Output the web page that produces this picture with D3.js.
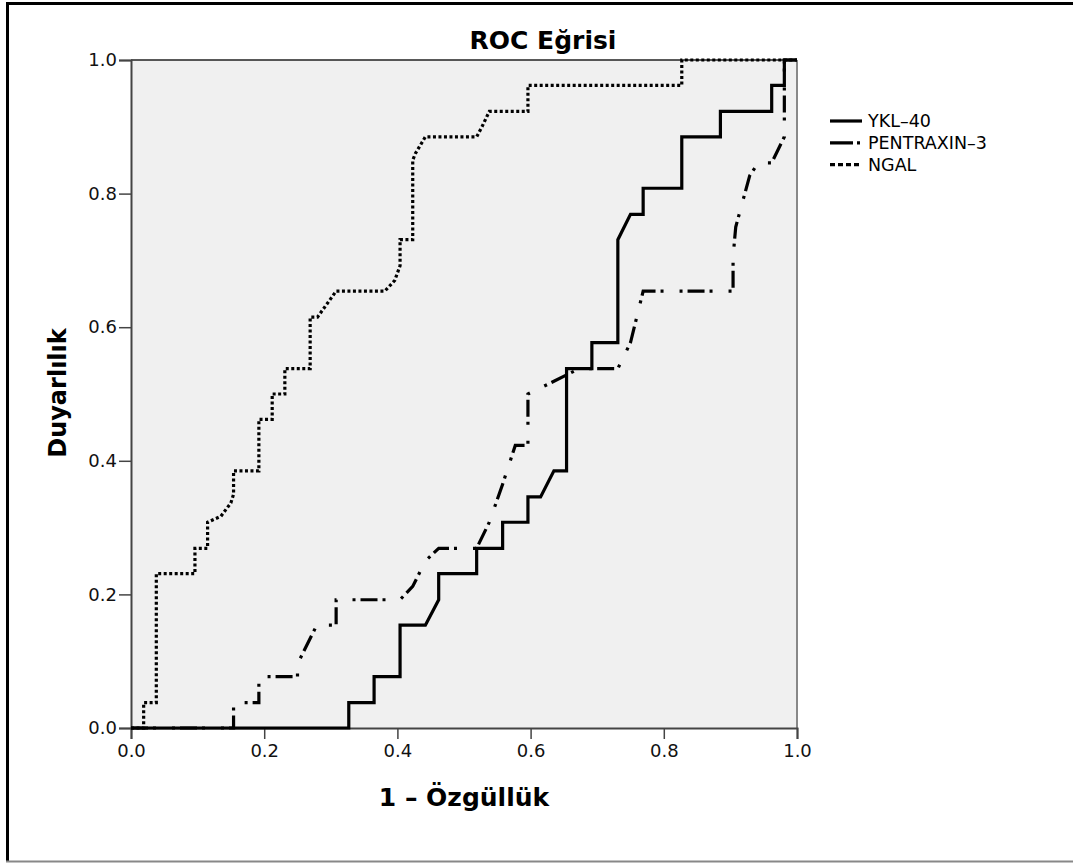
<!DOCTYPE html>
<html>
<head>
<meta charset="utf-8">
<script src="https://cdn.jsdelivr.net/npm/d3@7"></script>
<style>
  body { margin: 0; background: #fff; }
  svg { display: block; font-family: "DejaVu Sans", sans-serif; }
</style>
</head>
<body>
<div id="chart"></div>
<script>
// ROC curve points: [1 - specificity, sensitivity]
const yklPoints = [
  [0, 0], [0.327, 0], [0.327, 0.038], [0.365, 0.038], [0.365, 0.077], [0.404, 0.077],
  [0.404, 0.154], [0.442, 0.154], [0.462, 0.192], [0.462, 0.231], [0.519, 0.231],
  [0.519, 0.269], [0.558, 0.269], [0.558, 0.308], [0.596, 0.308], [0.596, 0.346],
  [0.615, 0.346], [0.635, 0.385], [0.654, 0.385], [0.654, 0.538], [0.692, 0.538],
  [0.692, 0.577], [0.731, 0.577], [0.731, 0.731], [0.75, 0.769], [0.769, 0.769],
  [0.769, 0.808], [0.827, 0.808], [0.827, 0.885], [0.885, 0.885], [0.885, 0.923],
  [0.962, 0.923], [0.962, 0.962], [0.981, 0.962], [0.981, 1], [1, 1]
];

const pentraxinPoints = [
  [0, 0], [0.154, 0], [0.154, 0.038], [0.192, 0.038], [0.192, 0.077], [0.25, 0.077],
  [0.25, 0.096], [0.279, 0.154], [0.308, 0.154], [0.308, 0.192], [0.404, 0.192],
  [0.423, 0.212], [0.442, 0.25], [0.462, 0.269], [0.519, 0.269], [0.538, 0.308],
  [0.558, 0.365], [0.577, 0.423], [0.596, 0.423], [0.596, 0.5], [0.635, 0.519],
  [0.673, 0.538], [0.731, 0.538], [0.75, 0.577], [0.769, 0.654], [0.904, 0.654],
  [0.904, 0.705], [0.908, 0.75], [0.929, 0.827], [0.942, 0.846], [0.962, 0.846],
  [0.981, 0.885], [0.981, 1], [1, 1]
];

const ngalPoints = [
  [0, 0], [0.019, 0], [0.019, 0.038], [0.038, 0.038], [0.038, 0.231], [0.096, 0.231],
  [0.096, 0.269], [0.115, 0.269], [0.115, 0.308], [0.135, 0.317], [0.15, 0.337],
  [0.154, 0.35], [0.154, 0.385], [0.192, 0.385], [0.192, 0.462], [0.212, 0.462],
  [0.212, 0.5], [0.231, 0.5], [0.231, 0.538], [0.269, 0.538], [0.269, 0.615],
  [0.28, 0.615], [0.308, 0.654], [0.381, 0.654], [0.396, 0.67], [0.404, 0.692],
  [0.404, 0.731], [0.423, 0.731], [0.423, 0.85], [0.427, 0.86], [0.442, 0.885],
  [0.519, 0.885], [0.527, 0.9], [0.538, 0.923], [0.596, 0.923], [0.596, 0.962],
  [0.827, 0.962], [0.827, 1], [1, 1]
];

const seriesNames = ["YKL–40", "PENTRAXIN–3", "NGAL"];
const tickValues = [0, 0.2, 0.4, 0.6, 0.8, 1.0];

const series = [
  { name: seriesNames[0], points: yklPoints, dash: null, legendDash: null },
  { name: seriesNames[1], points: pentraxinPoints, dash: "17,5,3,16,3,5", legendDash: "23,4,3,20" },
  { name: seriesNames[2], points: ngalPoints, dash: "3,2.5", legendDash: "5,3" }
];

const W = 1073, H = 863;
const margin = { top: 60, right: 276, bottom: 135, left: 131 };
const width = W - margin.left - margin.right;
const height = H - margin.top - margin.bottom;

const root = d3.select("#chart").append("svg")
  .attr("width", W)
  .attr("height", H);

// outer frame
root.append("line").attr("x1", 7.5).attr("x2", 7.5).attr("y1", 2).attr("y2", 862)
  .attr("stroke", "#000").attr("stroke-width", 3);
root.append("line").attr("x1", 6).attr("x2", 1073).attr("y1", 3.5).attr("y2", 3.5)
  .attr("stroke", "#000").attr("stroke-width", 3);
root.append("line").attr("x1", 6).attr("x2", 1073).attr("y1", 861.5).attr("y2", 861.5)
  .attr("stroke", "#888").attr("stroke-width", 2);

const svg = root.append("g")
  .attr("transform", `translate(${margin.left},${margin.top})`);

const x = d3.scaleLinear().domain([0, 1]).range([0, width]);
const y = d3.scaleLinear().domain([0, 1]).range([height, 0]);

// plot background
svg.append("rect")
  .attr("width", width)
  .attr("height", height)
  .attr("fill", "#f0f0f0");

// right border in grey, top border dark
svg.append("line").attr("x1", width).attr("x2", width).attr("y1", 0).attr("y2", height)
  .attr("stroke", "#888").attr("stroke-width", 2);
svg.append("line").attr("x1", 0).attr("x2", width).attr("y1", 0).attr("y2", 0)
  .attr("stroke", "#222").attr("stroke-width", 1.5);

// axes
const xAxis = svg.append("g")
  .attr("transform", `translate(0,${height})`)
  .call(d3.axisBottom(x).tickValues(tickValues).tickFormat(d3.format(".1f")).tickSize(11).tickPadding(5));
const yAxis = svg.append("g")
  .call(d3.axisLeft(y).tickValues(tickValues).tickFormat(d3.format(".1f")).tickSize(12).tickPadding(2));

[xAxis, yAxis].forEach(a => {
  a.select(".domain").attr("stroke", "#444").attr("stroke-width", 2);
  a.selectAll(".tick line").attr("stroke", "#444").attr("stroke-width", 1.5);
  a.selectAll(".tick text")
    .attr("font-family", "DejaVu Sans, sans-serif")
    .attr("font-size", 18)
    .attr("fill", "#111");
});

// curves
const line = d3.line()
  .x(d => x(d[0]))
  .y(d => y(d[1]));

svg.selectAll(".curve")
  .data(series)
  .join("path")
  .attr("class", "curve")
  .attr("d", d => line(d.points))
  .attr("fill", "none")
  .attr("stroke", "#000")
  .attr("stroke-width", 3.2)
  .attr("stroke-linejoin", "miter")
  .attr("stroke-dasharray", d => d.dash);

// title (centred over the whole chart) and axis labels
root.append("text")
  .attr("x", 543)
  .attr("y", 49)
  .attr("text-anchor", "middle")
  .attr("font-size", 25)
  .attr("font-weight", "bold")
  .text("ROC Eğrisi");

svg.append("text")
  .attr("x", width / 2)
  .attr("y", height + 78)
  .attr("text-anchor", "middle")
  .attr("font-size", 25)
  .attr("font-weight", "bold")
  .text("1 – Özgüllük");

svg.append("text")
  .attr("transform", `translate(-65,${height / 2 - 1}) rotate(-90)`)
  .attr("text-anchor", "middle")
  .attr("font-size", 24)
  .attr("font-weight", "bold")
  .text("Duyarlılık");

// legend
const legend = svg.append("g")
  .attr("transform", `translate(${width + 33},61)`);

const items = legend.selectAll("g")
  .data(series)
  .join("g")
  .attr("transform", (d, i) => `translate(0,${i * 21.8})`);

items.append("line")
  .attr("x1", 0).attr("x2", 32)
  .attr("stroke", "#000")
  .attr("stroke-width", 3.2)
  .attr("stroke-dasharray", d => d.legendDash);

items.append("text")
  .attr("x", 38)
  .attr("dy", "0.36em")
  .attr("font-size", 17.5)
  .text(d => d.name);
</script>
</body>
</html>
